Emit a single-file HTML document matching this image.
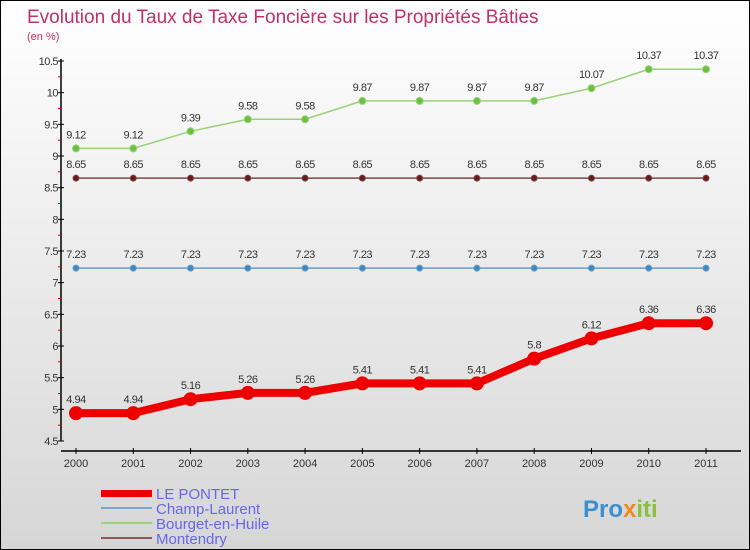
<!DOCTYPE html>
<html><head><meta charset="utf-8"><style>
body{margin:0;}
#c{width:750px;height:550px;box-sizing:border-box;border:1px solid #000;background:linear-gradient(#ffffff,#d6d6d6);position:relative;overflow:hidden;font-family:"Liberation Sans",sans-serif;}
svg text{font-family:"Liberation Sans",sans-serif;}
</style></head><body>
<div id="c">
<svg id="s" width="750" height="550">
<text x="26" y="22" font-size="19" fill="#c0306a">Evolution du Taux de Taxe Foncière sur les Propriétés Bâties</text>
<text x="26" y="39" font-size="11" fill="#c0306a">(en %)</text>
<g id="axes"></g><g id="series"></g>
<g>
<rect x="100" y="489" width="51" height="7" fill="#e00"/>
<text x="155" y="498" font-size="15" fill="#6666ee">LE PONTET</text>
<rect x="100" y="506" width="51" height="2" fill="#7aa6c8"/>
<text x="155" y="513" font-size="15" fill="#6666ee">Champ-Laurent</text>
<rect x="100" y="521" width="51" height="2" fill="#99d27a"/>
<text x="155" y="528" font-size="15" fill="#6666ee">Bourget-en-Huile</text>
<rect x="100" y="536" width="51" height="2" fill="#8a5a5a"/>
<text x="155" y="543" font-size="15" fill="#6666ee">Montendry</text>
</g>
<text x="582" y="516" font-size="24" font-weight="bold" fill="#3a8fd0">Pro<tspan fill="#f08a20">x</tspan><tspan fill="#88c040">iti</tspan></text>
</svg></div>
<script>
const years=[2000,2001,2002,2003,2004,2005,2006,2007,2008,2009,2010,2011];
const yTicks=[4.5,5,5.5,6,6.5,7,7.5,8,8.5,9,9.5,10,10.5];
const lePontet=[4.94,4.94,5.16,5.26,5.26,5.41,5.41,5.41,5.8,6.12,6.36,6.36];
const champLaurent=[7.23,7.23,7.23,7.23,7.23,7.23,7.23,7.23,7.23,7.23,7.23,7.23];
const bourget=[9.12,9.12,9.39,9.58,9.58,9.87,9.87,9.87,9.87,10.07,10.37,10.37];
const montendry=[8.65,8.65,8.65,8.65,8.65,8.65,8.65,8.65,8.65,8.65,8.65,8.65];
const NS="http://www.w3.org/2000/svg";
function X(i){return 75+i*(630/(years.length-1));}
function Y(v){return 440-(v-4.5)*(380/6);}
function mk(t,a,p){const e=document.createElementNS(NS,t);for(const k in a)e.setAttribute(k,a[k]);p.appendChild(e);return e;}
const ax=document.getElementById('axes'),se=document.getElementById('series');
const yl=mk('line',{x1:60,y1:58,x2:60,y2:440,stroke:'#000','stroke-width':1.5},ax);


const xl=mk('line',{x1:60,y1:450,x2:740,y2:450,stroke:'#000','stroke-width':1.5},ax);


yTicks.forEach((v,i)=>{
 mk('line',{x1:57,y1:Y(v),x2:63,y2:Y(v),stroke:'#000'},ax);
 if(i<yTicks.length-1)mk('line',{x1:57,y1:Y(v+0.25),x2:60,y2:Y(v+0.25),stroke:'#d00'},ax);
 const t=mk('text',{x:57,y:Y(v)+4,'font-size':11,fill:'#333','text-anchor':'end','letter-spacing':'-0.5'},ax);t.textContent=String(v);
 
 
});
years.forEach((yr,i)=>{
 mk('line',{x1:X(i),y1:447,x2:X(i),y2:453,stroke:'#000'},ax);
 const t=mk('text',{x:X(i),y:466,'font-size':11,fill:'#333','text-anchor':'middle'},ax);t.textContent=yr;
 
 
});
function series(data,color,w,r,name,dot){
 const g=mk('g',{},se);
 
 
 mk('polyline',{points:data.map((v,i)=>X(i)+','+Y(v)).join(' '),fill:'none',stroke:color,'stroke-width':w,'stroke-linejoin':'round'},g);
 data.forEach((v,i)=>{
  const c=mk('circle',{cx:X(i),cy:Y(v),r:r,fill:dot,stroke:color,'stroke-width':1},g);
  
  
  const t=mk('text',{x:X(i),y:Y(v)-10,'font-size':11,fill:'#333','text-anchor':'middle','letter-spacing':'-0.5'},g);t.textContent=String(v);
  
  
 });
}
series(montendry,'#7a4a4a',1.5,3,'series-montendry','#6a1a1a');
series(champLaurent,'#6a9cc0',1.5,3,'series-champ-laurent','#3a88c8');
series(bourget,'#99d27a',1.5,3.5,'series-bourget','#6cc040');
series(lePontet,'#e00',8,6.5,'series-le-pontet','#e00');
</script>
</body></html>
